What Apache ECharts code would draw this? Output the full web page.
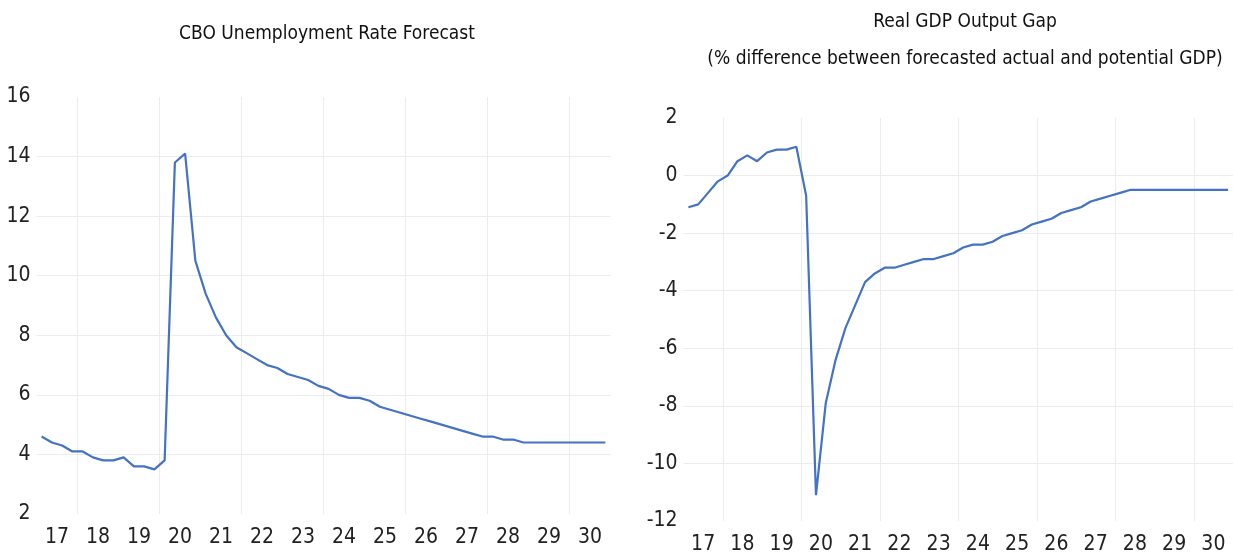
<!DOCTYPE html>
<html>
<head>
<meta charset="utf-8">
<script src="https://cdn.jsdelivr.net/npm/echarts@6/dist/echarts.min.js"></script>
<style>
html,body{margin:0;padding:0;background:#fff;}
#chart{width:1233px;height:556px;}
</style>
</head>
<body>
<div id="chart"></div>
<script>
// Quarterly categories 2017Q1 .. 2030Q4
const years = ['17','18','19','20','21','22','23','24','25','26','27','28','29','30'];
const quarters = [];
years.forEach(y => { for (let q = 1; q <= 4; q++) quarters.push(y + 'Q' + q); });

const unemploymentTitle = 'CBO Unemployment Rate Forecast';
const gapTitle = 'Real GDP Output Gap';
const gapSubtitle = '(% difference between forecasted actual and potential GDP)';

const unemployment = [
  4.6, 4.4, 4.3, 4.1,
  4.1, 3.9, 3.8, 3.8,
  3.9, 3.6, 3.6, 3.5,
  3.8, 13.8, 14.1, 10.5,
  9.4, 8.6, 8.0, 7.6,
  7.4, 7.2, 7.0, 6.9,
  6.7, 6.6, 6.5, 6.3,
  6.2, 6.0, 5.9, 5.9,
  5.8, 5.6, 5.5, 5.4,
  5.3, 5.2, 5.1, 5.0,
  4.9, 4.8, 4.7, 4.6,
  4.6, 4.5, 4.5, 4.4,
  4.4, 4.4, 4.4, 4.4,
  4.4, 4.4, 4.4, 4.4
];

const outputGap = [
  -1.1, -1.0, -0.6, -0.2,
  0.0, 0.5, 0.7, 0.5,
  0.8, 0.9, 0.9, 1.0,
  -0.7, -11.1, -7.9, -6.4,
  -5.3, -4.5, -3.7, -3.4,
  -3.2, -3.2, -3.1, -3.0,
  -2.9, -2.9, -2.8, -2.7,
  -2.5, -2.4, -2.4, -2.3,
  -2.1, -2.0, -1.9, -1.7,
  -1.6, -1.5, -1.3, -1.2,
  -1.1, -0.9, -0.8, -0.7,
  -0.6, -0.5, -0.5, -0.5,
  -0.5, -0.5, -0.5, -0.5,
  -0.5, -0.5, -0.5, -0.5
];

const FONT = "'Liberation Sans Narrow', 'DejaVu Sans Condensed', sans-serif";
const LINE = '#4472C4';
const GRIDC = '#ececec';
const NONE = 'rgba(0,0,0,0)';

function dataAxis(gi) {
  return { type: 'category', gridIndex: gi, data: quarters, boundaryGap: true, show: false };
}
function yearAxis(gi) {
  return {
    type: 'category', gridIndex: gi, data: years, boundaryGap: true, position: 'bottom',
    axisLine: { show: false }, axisTick: { show: false },
    axisLabel: { color: '#222', fontFamily: FONT, fontSize: 21, margin: 13, interval: 0 },
    splitLine: { show: true, interval: (i) => i % 2 === 1,
      lineStyle: { color: [GRIDC, GRIDC, GRIDC, GRIDC, GRIDC, GRIDC, GRIDC, NONE], width: 1 } }
  };
}
function valAxis(gi, min, max) {
  return {
    type: 'value', gridIndex: gi, min: min, max: max, interval: 2,
    axisLine: { show: false }, axisTick: { show: false },
    axisLabel: { color: '#222', fontFamily: FONT, fontSize: 21, margin: 6 },
    splitLine: { show: true,
      lineStyle: { color: [NONE, GRIDC, GRIDC, GRIDC, GRIDC, GRIDC, GRIDC, NONE], width: 1 } }
  };
}

const titleStyle = { fontFamily: FONT, fontSize: 19, fontWeight: 'normal', color: '#111' };

const chart = echarts.init(document.getElementById('chart'), null, { renderer: 'canvas' });
chart.setOption({
  animation: false,
  backgroundColor: '#fff',
  title: [
    { text: unemploymentTitle, left: 322, top: 20, textAlign: 'center', textStyle: titleStyle },
    { text: gapTitle, left: 960, top: 8, textAlign: 'center', textStyle: titleStyle },
    { text: gapSubtitle, left: 960, top: 45, textAlign: 'center', textStyle: titleStyle }
  ],
  grid: [
    { left: 36.5, top: 97, width: 574, height: 417, containLabel: false },
    { left: 683.5, top: 118, width: 553, height: 403, containLabel: false }
  ],
  xAxis: [dataAxis(0), yearAxis(0), dataAxis(1), yearAxis(1)],
  yAxis: [valAxis(0, 2, 16), valAxis(1, -12, 2)],
  series: [
    { type: 'line', xAxisIndex: 0, yAxisIndex: 0, data: unemployment, symbol: 'none',
      lineStyle: { color: LINE, width: 2.2 } },
    { type: 'line', xAxisIndex: 2, yAxisIndex: 1, data: outputGap, symbol: 'none',
      lineStyle: { color: LINE, width: 2.2 } }
  ]
});
</script>
</body>
</html>
